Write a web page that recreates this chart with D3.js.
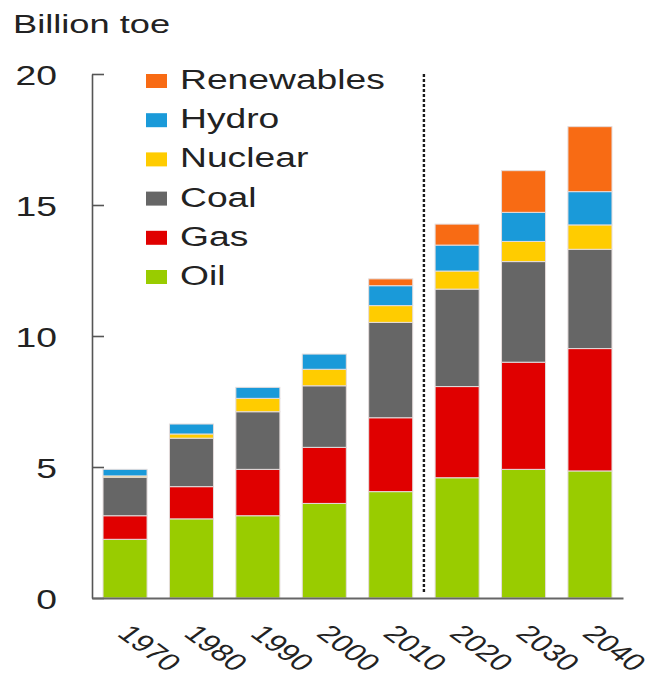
<!DOCTYPE html>
<html>
<head>
<meta charset="utf-8">
<script src="https://cdn.jsdelivr.net/npm/d3@7"></script>
<style>
  html, body { margin: 0; padding: 0; background: #fff; }
  svg { display: block; font-family: "Liberation Sans", Arial, sans-serif; }
</style>
</head>
<body>
<svg id="chart" width="654" height="683"></svg>
<script>
// Primary energy consumption by fuel, billion tonnes of oil equivalent
const years = ["1970", "1980", "1990", "2000", "2010", "2020", "2030", "2040"];
const oil        = [2.24, 3.02, 3.14, 3.61, 4.06, 4.59, 4.91, 4.85];
const gas        = [0.90, 1.23, 1.77, 2.14, 2.82, 3.48, 4.09, 4.67];
const coal       = [1.47, 1.85, 2.20, 2.35, 3.64, 3.72, 3.84, 3.79];
const nuclear    = [0.05, 0.16, 0.51, 0.63, 0.64, 0.69, 0.77, 0.93];
const hydro      = [0.25, 0.38, 0.42, 0.58, 0.76, 0.99, 1.11, 1.27];
const renewables = [0.00, 0.00, 0.00, 0.00, 0.26, 0.80, 1.59, 2.48];

const fuels = ["Oil", "Gas", "Coal", "Nuclear", "Hydro", "Renewables"];
const fuelValues = { Oil: oil, Gas: gas, Coal: coal, Nuclear: nuclear, Hydro: hydro, Renewables: renewables };
const fuelColors = ["#99cc00", "#e00000", "#666666", "#ffcc00", "#1a9ad9", "#f86b14"];
const yTicks = [0, 5, 10, 15, 20];
const outlookStart = "2020"; // projections begin here

const rows = years.map((y, i) => {
  const r = { year: y };
  fuels.forEach(f => { r[f] = fuelValues[f][i]; });
  return r;
});

const svg = d3.select("#chart");
const x = d3.scaleBand().domain(years).range([92, 623]).paddingInner(0.337).paddingOuter(0.166);
const y = d3.scaleLinear().domain([0, 20]).range([598, 74]);
const color = d3.scaleOrdinal().domain(fuels).range(fuelColors);

// Stacked bars
const series = d3.stack().keys(fuels)(rows);
svg.append("g")
  .selectAll("g")
  .data(series)
  .join("g")
  .attr("fill", d => color(d.key))
  .selectAll("rect")
  .data(d => d.filter(p => p[1] - p[0] > 0))
  .join("rect")
  .attr("x", d => x(d.data.year))
  .attr("width", x.bandwidth())
  .attr("y", d => y(d[1]))
  .attr("height", d => y(d[0]) - y(d[1]))
  .attr("stroke", "#e4dcdc")
  .attr("stroke-width", 1);

// Divider between history and outlook
const divX = x(outlookStart) - (x.step() - x.bandwidth()) / 2;
svg.append("line")
  .attr("x1", divX).attr("x2", divX)
  .attr("y1", y(20)).attr("y2", y(0) - 4)
  .attr("stroke", "#1a1a1a")
  .attr("stroke-width", 2.4)
  .attr("stroke-dasharray", "3,2");

// Y axis with inward ticks
const yAxis = svg.append("g")
  .attr("transform", "translate(92,0)")
  .call(d3.axisLeft(y).tickValues(yTicks).tickSizeInner(-12).tickSizeOuter(0).tickPadding(0));
yAxis.select(".domain").attr("stroke", "#555").attr("stroke-width", 1.6);
yAxis.selectAll(".tick line").attr("stroke", "#555").attr("stroke-width", 1.6);
yAxis.selectAll(".tick text")
  .attr("x", null).attr("dy", null)
  .attr("transform", "translate(-35,10) scale(1.38,1)")
  .attr("text-anchor", "end")
  .attr("font-size", 27)
  .attr("fill", "#222");

// X axis
const xAxis = svg.append("g")
  .attr("transform", `translate(0,${y(0)})`)
  .call(d3.axisBottom(x).tickSize(0).tickSizeOuter(0));
xAxis.select(".domain").attr("stroke", "#666").attr("stroke-width", 1.8);
xAxis.selectAll(".tick text")
  .attr("y", null).attr("dy", null)
  .attr("transform", "translate(-9,37) scale(1.36,1) rotate(45)")
  .attr("text-anchor", "start")
  .attr("font-size", 24)
  .attr("fill", "#222");

// Unit label
svg.append("text")
  .attr("transform", "translate(13,33) scale(1.45,1)")
  .attr("font-size", 25)
  .attr("fill", "#222")
  .text("Billion toe");

// Legend, top fuel first
const legend = svg.append("g")
  .selectAll("g")
  .data(fuels.slice().reverse())
  .join("g")
  .attr("transform", (d, i) => `translate(146,${89 + i * 39.2})`);
legend.append("rect")
  .attr("x", 0).attr("y", -15)
  .attr("width", 21).attr("height", 14)
  .attr("fill", d => color(d));
legend.append("text")
  .attr("transform", "translate(34,0) scale(1.33,1)")
  .attr("font-size", 28)
  .attr("fill", "#222")
  .text(d => d);
</script>
</body>
</html>
